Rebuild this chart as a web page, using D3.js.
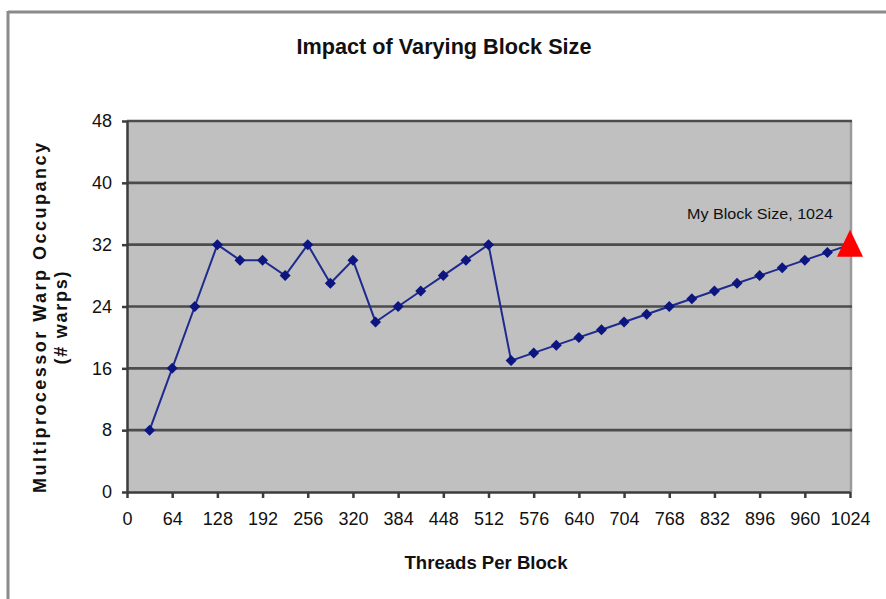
<!DOCTYPE html>
<html>
<head>
<meta charset="utf-8">
<script src="https://cdn.jsdelivr.net/npm/d3@7"></script>
<style>
  html, body { margin: 0; padding: 0; background: #ffffff; }
  svg { display: block; }
  text { font-family: "Liberation Sans", Arial, Helvetica, sans-serif; fill: #111; }
</style>
</head>
<body>
<svg id="chart" width="886" height="599"></svg>
<script>
// Threads per block (x) and resident warps per multiprocessor (y)
const blockSizes = [32, 64, 96, 128, 160, 192, 224, 256, 288, 320, 352, 384, 416, 448, 480, 512,
                    544, 576, 608, 640, 672, 704, 736, 768, 800, 832, 864, 896, 928, 960, 992, 1024];
const warps = [8, 16, 24, 32, 30, 30, 28, 32, 27, 30, 22, 24, 26, 28, 30, 32,
               17, 18, 19, 20, 21, 22, 23, 24, 25, 26, 27, 28, 29, 30, 31, 32];

// Highlighted configuration
const myBlockSize = [1024];
const myWarps = [32];
const myLabel = "My Block Size, 1024";

const xTicks = [0, 64, 128, 192, 256, 320, 384, 448, 512, 576, 640, 704, 768, 832, 896, 960, 1024];
const yTicks = [0, 8, 16, 24, 32, 40, 48];

const svg = d3.select("#chart");

// outer frame (top and left edges)
svg.append("line").attr("x1", 8).attr("x2", 886).attr("y1", 12).attr("y2", 12)
  .attr("stroke", "#8a8a8a").attr("stroke-width", 3);
svg.append("line").attr("x1", 8).attr("x2", 8).attr("y1", 11).attr("y2", 599)
  .attr("stroke", "#8a8a8a").attr("stroke-width", 3);

const plot = { left: 127, right: 850, top: 121, bottom: 492 };

const x = d3.scaleLinear().domain([0, 1024]).range([plot.left, plot.right]);
const y = d3.scaleLinear().domain([0, 48]).range([plot.bottom, plot.top]);

// plot background
svg.append("rect")
  .attr("x", plot.left).attr("y", plot.top)
  .attr("width", plot.right - plot.left + 1).attr("height", plot.bottom - plot.top)
  .attr("fill", "#c0c0c0");
// right edge of plot area
svg.append("line")
  .attr("x1", plot.right + 1).attr("x2", plot.right + 1)
  .attr("y1", plot.top).attr("y2", plot.bottom)
  .attr("stroke", "#9a9a9a").attr("stroke-width", 2.5);

// horizontal gridlines
svg.append("g").selectAll("line")
  .data(yTicks.filter(d => d > 0))
  .join("line")
  .attr("x1", plot.left).attr("x2", plot.right + 2)
  .attr("y1", d => y(d)).attr("y2", d => y(d))
  .attr("stroke", "#4c4c4c").attr("stroke-width", 2.6);

// y axis
const yAxis = svg.append("g")
  .attr("transform", `translate(${plot.left},0)`)
  .call(d3.axisLeft(y).tickValues(yTicks).tickFormat(d3.format("d"))
    .tickSize(5).tickPadding(10).tickSizeOuter(0));
yAxis.select(".domain").attr("stroke", "#3c3c3c").attr("stroke-width", 2.5);
yAxis.selectAll(".tick line").attr("stroke", "#3c3c3c").attr("stroke-width", 2.5);
yAxis.selectAll(".tick text")
  .style("font-family", "'Liberation Sans', Arial, sans-serif")
  .style("font-size", "18px").attr("fill", "#111");

// x axis
const xAxis = svg.append("g")
  .attr("transform", `translate(0,${plot.bottom})`)
  .call(d3.axisBottom(x).tickValues(xTicks).tickFormat(d3.format("d"))
    .tickSize(6).tickPadding(14).tickSizeOuter(0));
xAxis.select(".domain").attr("stroke", "#3c3c3c").attr("stroke-width", 2.5);
xAxis.selectAll(".tick line").attr("stroke", "#3c3c3c").attr("stroke-width", 2.5);
xAxis.selectAll(".tick text")
  .style("font-family", "'Liberation Sans', Arial, sans-serif")
  .style("font-size", "18px").attr("fill", "#111");

// occupancy series
const pts = blockSizes.map((b, i) => [b, warps[i]]);
svg.append("path")
  .datum(pts)
  .attr("fill", "none")
  .attr("stroke", "#1f2a8e")
  .attr("stroke-width", 2)
  .attr("d", d3.line().x(d => x(d[0])).y(d => y(d[1])));

// diamond markers
svg.append("g").selectAll("path")
  .data(pts)
  .join("path")
  .attr("transform", d => `translate(${x(d[0])},${y(d[1])})`)
  .attr("d", "M0,-5.5L5.5,0L0,5.5L-5.5,0Z")
  .attr("fill", "#0c1580");

// highlighted block size
const mine = myBlockSize.map((b, i) => [b, myWarps[i]]);
svg.append("g").selectAll("path")
  .data(mine)
  .join("path")
  .attr("transform", d => `translate(${x(d[0])},${y(d[1]) - 1})`)
  .attr("d", "M0,-14L13,13L-13,13Z")
  .attr("fill", "#ff0000");

svg.append("g").selectAll("text")
  .data(mine)
  .join("text")
  .attr("x", d => x(d[0]) - 17)
  .attr("y", d => y(d[1]) - 26)
  .attr("text-anchor", "end")
  .attr("textLength", 146)
  .attr("lengthAdjust", "spacingAndGlyphs")
  .style("font-size", "15px")
  .attr("fill", "#1a1a1a")
  .text(myLabel);

// title
svg.append("text")
  .attr("x", 444).attr("y", 54)
  .attr("text-anchor", "middle")
  .attr("textLength", 295)
  .attr("lengthAdjust", "spacingAndGlyphs")
  .style("font-size", "22px").style("font-weight", "bold")
  .text("Impact of Varying Block Size");

// x axis title
svg.append("text")
  .attr("x", 486).attr("y", 569)
  .attr("text-anchor", "middle")
  .attr("textLength", 163)
  .attr("lengthAdjust", "spacingAndGlyphs")
  .style("font-size", "19px").style("font-weight", "bold")
  .text("Threads Per Block");

// y axis title (two lines)
const yTitle = svg.append("g").attr("transform", "translate(0,318) rotate(-90)");
yTitle.append("text")
  .attr("x", 0).attr("y", 46)
  .attr("text-anchor", "middle")
  .attr("textLength", 350)
  .attr("lengthAdjust", "spacing")
  .style("font-size", "18px").style("font-weight", "bold")
  .text("Multiprocessor Warp Occupancy");
yTitle.append("text")
  .attr("x", 0).attr("y", 67)
  .attr("text-anchor", "middle")
  .attr("textLength", 93)
  .attr("lengthAdjust", "spacing")
  .style("font-size", "18px").style("font-weight", "bold")
  .text("(# warps)");
</script>
</body>
</html>
